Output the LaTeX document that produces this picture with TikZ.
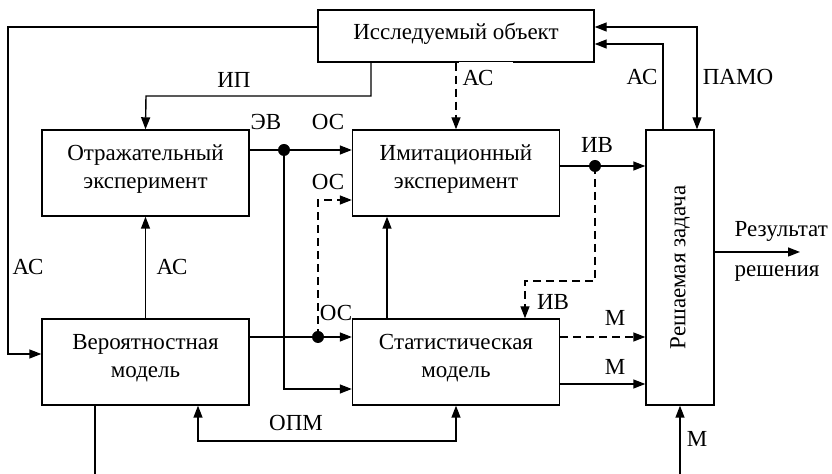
\documentclass[tikz,border=0pt]{standalone}
\usepackage{fontspec}
\setmainfont{Liberation Serif}
\usepackage{graphicx}
\usepackage{tikz}
\usetikzlibrary{arrows.meta}

\begin{document}
\begin{tikzpicture}[
            x=0.5pt, y=-0.5pt, line width=0.7pt, % one unit is one pixel of the layout
            every node/.style={font=\fontsize{11.5}{14}\selectfont}, % Serif text everywhere
            block/.style={draw, minimum width=103.5pt, minimum height=43pt, align=center, inner sep=0pt, text depth=6.5pt}, % Boxes
            lbl/.style={inner sep=0pt}, % Signal names
            arr/.style={-{Triangle[length=6pt,width=4.5pt]}}, % One arrow head
            arrb/.style={{Triangle[length=6pt,width=4.5pt]}-{Triangle[length=6pt,width=4.5pt]}}, % Heads on both ends
            dsh/.style={dash pattern=on 4pt off 2.5pt} % Dashed links
            ]
        \useasboundingbox (0,0) rectangle (832,474);

                % Boxes
                \node[block, minimum width=138pt, minimum height=26pt, text depth=4.5pt] (obj) at (456,36) {Исследуемый объект};
                \node[block] (refl) at (145.5,173) {Отражательный\\эксперимент};
                \node[block] (imit) at (456,173) {Имитационный\\эксперимент};
                \node[block] (prob) at (145.5,362) {Вероятностная\\модель};
                \node[block] (stat) at (456,362) {Статистическая\\модель};
                \node[block, minimum width=34pt, minimum height=137.5pt, text depth=0pt] (task) at (680,267.5) {\rotatebox{90}{Решаемая задача}};

                % Signal names
                \node[lbl] (ip) at (234,80) {ИП};
                \node[lbl, fill=white, anchor=north west, text width=27pt, minimum height=16pt, align=left] (as1) at (458,61) {\hspace*{2pt}АС};
                \node[lbl] (as2) at (642,77) {АС};
                \node[lbl] (pamo) at (738,77) {ПАМО};
                \node[lbl] (evl) at (266,122) {ЭВ};
                \node[lbl] (os1) at (328,122) {ОС};
                \node[lbl] (os2) at (328,182) {ОС};
                \node[lbl] (os3) at (336,313) {ОС};
                \node[lbl] (iv1) at (597,145) {ИВ};
                \node[lbl] (iv2) at (553,302) {ИВ};
                \node[lbl] (m1) at (615,318) {М};
                \node[lbl] (m2) at (615,367) {М};
                \node[lbl] (m3) at (697,439) {М};
                \node[lbl] (as3) at (28,267) {АС};
                \node[lbl] (as4) at (172,267) {АС};
                \node[lbl] (opm) at (296,423) {ОПМ};
                \node[lbl, anchor=base west] (res1) at (734,237) {Результат};
                \node[lbl, anchor=base west] (res2) at (734,277) {решения};

                % Branch points and free ends
                \coordinate (ev) at (284,150);
                \coordinate (osd) at (318,337);
                \coordinate (ivd) at (595,166);
                \coordinate (mend) at (680,474);
                \coordinate (pend) at (95,474);
                \coordinate (resend) at (800,252);

                % Links
                \draw[arr] (obj.west |- 0,27) -| (8,354) -- (prob.west |- 0,354);
                \draw[arr] (obj.south -| 371,0) |- (146,96) -- (refl.north);
                \draw[arr, dsh] (obj.south -| imit.north) -- (imit.north);
                \draw[arr] (refl.east |- ev) -- (imit.west |- ev);
                \draw[arr] (ev) |- (stat.west |- 0,389);
                \draw[arr] (prob.east |- osd) -- (stat.west |- osd);
                \draw[arr, dsh] (osd) |- (imit.west |- 0,200);
                \draw[arr] (prob.north) -- (refl.south);
                \draw[arr] (stat.north -| 387,0) -- (imit.south -| 387,0);
                \draw[arr] (imit.east |- ivd) -- (task.west |- ivd);
                \draw[arr, dsh] (ivd) |- (525,281) -- (stat.north -| 525,0);
                \draw[arr, dsh] (stat.east |- osd) -- (task.west |- osd);
                \draw[arr] (stat.east |- 0,384) -- (task.west |- 0,384);
                \draw[arr] (mend) -- (task.south);
                \draw (prob.south -| pend) -- (pend);
                \draw[arrb] (prob.south -| 198,0) |- (stat.south |- 0,441) -- (stat.south);
                \draw[arr] (task.north -| 663,0) |- (obj.east |- 0,44);
                \draw[arrb] (obj.east |- 0,27) -| (task.north -| 697,0);
                \draw[arr] (task.east |- resend) -- (resend);

                % Dots
                \fill (ev) circle (3pt);
                \fill (osd) circle (3pt);
                \fill (ivd) circle (3pt);

            \end{tikzpicture}
\end{document}
